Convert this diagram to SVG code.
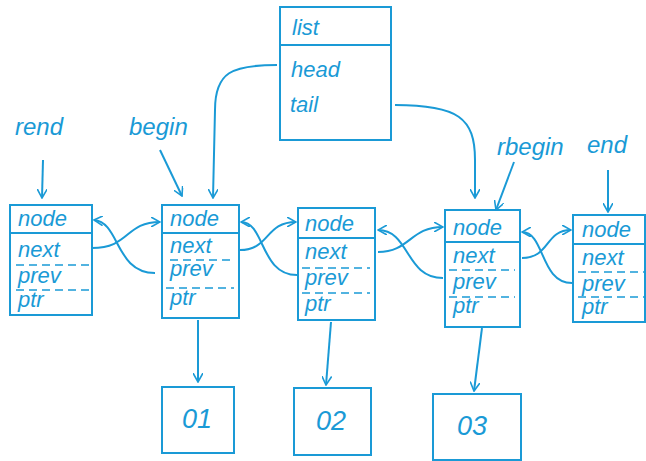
<svg xmlns="http://www.w3.org/2000/svg" width="646" height="461" viewBox="0 0 646 461">
<defs>
<marker id="arr" viewBox="0 0 10 10" refX="9" refY="5" markerWidth="10" markerHeight="10" markerUnits="userSpaceOnUse" orient="auto">
<path d="M0,0 L9,5 L0,10" fill="none" stroke="#1a9ad6" stroke-width="1.6"/>
</marker>
<style>
.b{fill:none;stroke:#1a9ad6;stroke-width:2}
.d{fill:none;stroke:#1a9ad6;stroke-width:1.5;stroke-dasharray:8 5}
.t{font-family:"Liberation Sans",sans-serif;font-style:italic;font-size:22px;fill:#1a9ad6}
.l{font-family:"Liberation Sans",sans-serif;font-style:italic;font-size:24px;fill:#1a9ad6}
.v{font-family:"Liberation Sans",sans-serif;font-style:italic;font-size:27px;fill:#1a9ad6;text-anchor:middle}
.c{fill:none;stroke:#1a9ad6;stroke-width:2;marker-end:url(#arr)}
</style>
</defs>
<rect width="646" height="461" fill="#fff"/>

<g id="list">
<rect class="b" x="280" y="7" width="111" height="133"/>
<line class="b" x1="280" y1="45" x2="391" y2="45"/>
<text class="t" x="292" y="35">list</text>
<text class="t" x="291" y="77">head</text>
<text class="t" x="290" y="112">tail</text>
</g>

<g id="nodeA">
<rect class="b" x="10" y="205" width="82" height="110"/>
<line class="b" x1="10" y1="233" x2="92" y2="233"/>
<text class="t" x="18" y="226">node</text>
<text class="t" x="18" y="257">next</text>
<line class="d" x1="16" y1="265" x2="90" y2="265"/>
<text class="t" x="18" y="283">prev</text>
<line class="d" x1="16" y1="290" x2="90" y2="290"/>
<text class="t" x="18" y="307">ptr</text>
</g>

<g id="nodeB">
<rect class="b" x="162" y="205" width="77" height="113"/>
<line class="b" x1="162" y1="233" x2="239" y2="233"/>
<text class="t" x="170" y="226">node</text>
<text class="t" x="170" y="253">next</text>
<line class="d" x1="170" y1="260" x2="234" y2="260"/>
<text class="t" x="170" y="276">prev</text>
<line class="d" x1="166" y1="288" x2="234" y2="288"/>
<text class="t" x="170" y="305">ptr</text>
</g>

<g id="nodeC">
<rect class="b" x="298" y="208" width="77" height="112"/>
<line class="b" x1="298" y1="238" x2="375" y2="238"/>
<text class="t" x="305" y="231">node</text>
<text class="t" x="305" y="259">next</text>
<line class="d" x1="302" y1="268" x2="370" y2="268"/>
<text class="t" x="305" y="285">prev</text>
<line class="d" x1="302" y1="293" x2="370" y2="293"/>
<text class="t" x="305" y="311">ptr</text>
</g>

<g id="nodeD">
<rect class="b" x="445" y="210" width="75" height="117"/>
<line class="b" x1="445" y1="242" x2="520" y2="242"/>
<text class="t" x="453" y="235">node</text>
<text class="t" x="453" y="263">next</text>
<line class="d" x1="449" y1="270" x2="515" y2="270"/>
<text class="t" x="453" y="289">prev</text>
<line class="d" x1="449" y1="297" x2="515" y2="297"/>
<text class="t" x="453" y="313">ptr</text>
</g>

<g id="nodeE">
<rect class="b" x="573" y="215" width="72" height="107"/>
<line class="b" x1="573" y1="244" x2="645" y2="244"/>
<text class="t" x="582" y="237">node</text>
<text class="t" x="582" y="265">next</text>
<line class="d" x1="578" y1="272" x2="645" y2="272"/>
<text class="t" x="582" y="291">prev</text>
<line class="d" x1="578" y1="297" x2="645" y2="297"/>
<text class="t" x="582" y="314">ptr</text>
</g>

<g id="v01">
<rect class="b" x="162" y="387" width="72" height="66"/>
<text class="v" x="197" y="428">01</text>
</g>
<g id="v02">
<rect class="b" x="294" y="388" width="77" height="67"/>
<text class="v" x="331" y="430">02</text>
</g>
<g id="v03">
<rect class="b" x="433" y="394" width="88" height="66"/>
<text class="v" x="472" y="435">03</text>
</g>

<g id="labels">
<text class="l" x="15" y="135">rend</text>
<text class="l" x="129" y="135">begin</text>
<text class="l" x="497" y="155">rbegin</text>
<text class="l" x="587" y="153">end</text>
</g>

<g id="connectors">
<path class="c" d="M277,65 C232,65 215,72 215,110 L213,198"/>
<path class="c" d="M395,105 C458,105 475,118 475,160 L475,198"/>
<path class="c" d="M43,160 L42,198"/>
<path class="c" d="M160,150 L182,196"/>
<path class="c" d="M514,162 L496,210"/>
<path class="c" d="M608,170 L608,212"/>
<path class="c" d="M198,320 L198,382"/>
<path class="c" d="M331,322 L326,385"/>
<path class="c" d="M482,328 L474,391"/>
<path class="c" d="M92,248 C130,248 125,222 160,222"/>
<path class="c" d="M155,273 C115,273 120,222 94,220"/>
<path class="c" d="M240,250 C270,250 265,222 296,222"/>
<path class="c" d="M297,275 C260,275 265,222 241,222"/>
<path class="c" d="M378,252 C410,252 410,227 443,227"/>
<path class="c" d="M443,278 C405,278 410,230 378,230"/>
<path class="c" d="M522,258 C550,258 545,230 571,230"/>
<path class="c" d="M572,283 C540,283 545,232 522,232"/>
</g>
</svg>
